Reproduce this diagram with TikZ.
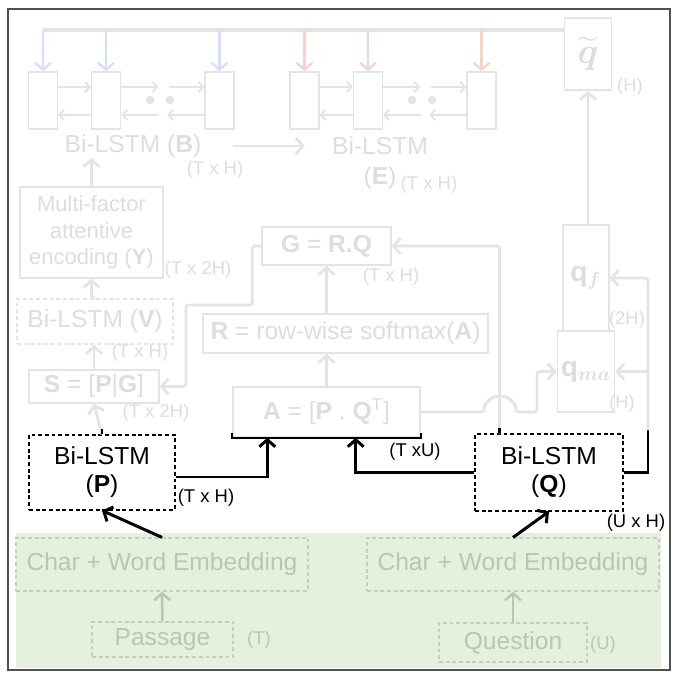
\documentclass[tikz,border=0pt]{standalone}
\usepackage{fontspec}
\usepackage{amsmath}
\setmainfont{Liberation Sans}
\usetikzlibrary{arrows.meta}

\definecolor{fadeline}{RGB}{228,228,228}
\definecolor{fadetext}{RGB}{221,221,221}
\definecolor{bluearr}{RGB}{212,222,255}
\definecolor{redarr}{RGB}{246,212,206}
\definecolor{greenbg}{RGB}{230,240,222}
\definecolor{greentext}{RGB}{186,198,180}
\definecolor{greenline}{RGB}{196,206,190}
\definecolor{framec}{RGB}{80,80,80}

\newcommand{\bigfont}{\fontsize{14}{16}\selectfont}
\newcommand{\midfont}{\fontsize{12.5}{15}\selectfont}
\newcommand{\smallfont}{\fontsize{10.5}{12}\selectfont}

\begin{document}
\begin{tikzpicture}[x=0.02cm, y=-0.02cm, >={Straight Barb[length=4pt, width=9pt]},
    cellbox/.style={draw=fadeline, line width=0.8pt, minimum width=0.58cm, minimum height=1.14cm},
    dotnode/.style={circle, fill=fadeline, inner sep=0pt, minimum size=0.17cm},
    fadebox/.style={draw=fadeline, line width=0.8pt, text=fadetext, font=\bigfont, inner sep=2pt},
    fadedash/.style={fadebox, dash pattern=on 2.2pt off 1.6pt},
    fadelabel/.style={text=fadetext, inner sep=0pt},
    blkbox/.style={draw=black, line width=0.6pt, dash pattern=on 2.2pt off 1.6pt, font=\bigfont, align=center, inner sep=2pt},
    greenbox/.style={draw=greenline, line width=0.7pt, dash pattern=on 2.2pt off 1.6pt, text=greentext, font=\bigfont, inner sep=2pt},
    cellarrow/.style={fadeline, line width=1.1pt, -{Straight Barb[length=2.6pt, width=6pt]}},
    fadearrow/.style={fadeline, line width=1.6pt, ->, rounded corners=1.5pt},
    busline/.style={fadeline, line width=1.8pt},
    bluearrow/.style={bluearr, line width=1.3pt, ->},
    redarrow/.style={redarr, line width=1.3pt, ->},
    blkarrow/.style={black, line width=1.7pt, ->},
    greenarrow/.style={greentext, line width=1.4pt, ->}]

            % Frame and background
            \useasboundingbox (0,0) rectangle (680,680);
            \fill[greenbg] (16,533) rectangle (661,668);
            \draw[framec, line width=1.2pt] (8,9) rectangle (670,670);

            % Bi-LSTM cells (B) and (E)
            \node[cellbox] (b1) at (43,100.5) {};
            \node[cellbox] (b2) at (106,100.5) {};
            \node[cellbox] (b3) at (219.5,100.5) {};
            \node[dotnode] (db1) at (150,100) {};
            \node[dotnode] (db2) at (170,100) {};
            \node[cellbox] (e1) at (304.5,100.5) {};
            \node[cellbox] (e2) at (368,100.5) {};
            \node[cellbox] (e3) at (481.5,100.5) {};
            \node[dotnode] (de1) at (412,100) {};
            \node[dotnode] (de2) at (432,100) {};

            \draw[cellarrow] ([yshift=0.27cm]b1.east) -- ([yshift=0.27cm]b2.west);
            \draw[cellarrow] ([yshift=0.27cm]b2.east) -- ++(37,0);
            \draw[cellarrow] ([xshift=-0.7cm, yshift=0.27cm]b3.west) -- ([yshift=0.27cm]b3.west);
            \draw[cellarrow] ([yshift=-0.29cm]b3.west) -- ++(-37,0);
            \draw[cellarrow] ([xshift=0.76cm, yshift=-0.29cm]b2.east) -- ([yshift=-0.29cm]b2.east);
            \draw[cellarrow] ([yshift=-0.29cm]b2.west) -- ([yshift=-0.29cm]b1.east);

            \draw[cellarrow] ([yshift=0.27cm]e1.east) -- ([yshift=0.27cm]e2.west);
            \draw[cellarrow] ([yshift=0.27cm]e2.east) -- ++(37,0);
            \draw[cellarrow] ([xshift=-0.7cm, yshift=0.27cm]e3.west) -- ([yshift=0.27cm]e3.west);
            \draw[cellarrow] ([yshift=-0.29cm]e3.west) -- ++(-37,0);
            \draw[cellarrow] ([xshift=0.76cm, yshift=-0.29cm]e2.east) -- ([yshift=-0.29cm]e2.east);
            \draw[cellarrow] ([yshift=-0.29cm]e2.west) -- ([yshift=-0.29cm]e1.east);

            % Question summary and top bus
            \node[fadebox, minimum width=0.94cm, minimum height=1.44cm, font=\fontsize{22}{24}\selectfont] (qt) at (588,54) {$\widetilde{\boldsymbol{q}}$};
            \node[fadelabel, font=\smallfont] (dimqt) at (630,87) {(H)};
            \coordinate (bus) at (43,30);
            \draw[busline] (bus) -- (bus -| qt.west);
            \draw[bluearrow] (b1.north |- bus) -- (b1.north);
            \draw[bluearrow] (b2.north |- bus) -- (b2.north);
            \draw[bluearrow] (b3.north |- bus) -- (b3.north);
            \draw[redarrow] (e1.north |- bus) -- (e1.north);
            \draw[redarrow] (e2.north |- bus) -- (e2.north);
            \draw[redarrow] (e3.north |- bus) -- (e3.north);

            % Labels of B and E
            \node[fadelabel, font=\bigfont] (lblB) at (133,146) {Bi-LSTM (\textbf{B})};
            \node[fadelabel, font=\smallfont] (dimB) at (215,170) {(T x H)};
            \node[fadelabel, font=\fontsize{14}{17}\selectfont, align=center] (lblE) at (380,163) {Bi-LSTM\\(\textbf{E})};
            \node[fadelabel, font=\smallfont] (dimE) at (429,185) {(T x H)};
            \draw[fadearrow, shorten <=0.62cm, shorten >=0.54cm] (lblB.east) -- (lblB.east -| lblE.west);

            % Passage side
            \node[fadebox, font=\midfont, align=center, minimum width=2.86cm, minimum height=1.82cm] (mf) at (91.5,232.5) {Multi-factor\\attentive\\encoding (\textbf{Y})};
            \node[fadelabel, font=\smallfont] (dimY) at (198,270) {(T x 2H)};
            \node[fadedash, minimum width=3.12cm, minimum height=0.9cm] (bv) at (95,321.5) {Bi-LSTM (\textbf{V})};
            \node[fadelabel, font=\smallfont] (dimV) at (140,353) {(T x H)};
            \node[fadebox, minimum width=2.6cm, minimum height=0.66cm] (sb) at (94,386.5) {\textbf{S} = [\textbf{P}|\textbf{G}]};
            \node[fadelabel, font=\smallfont] (dimS) at (156,413) {(T x 2H)};
            \draw[fadearrow] (mf.north) -- (mf.north |- lblB.south);
            \draw[fadearrow] (bv.north) -- (bv.north -| mf.south) -- (mf.south);
            \draw[fadearrow] (sb.north) -- (sb.north |- bv.south);

            % Attention
            \node[fadebox, minimum width=2.58cm, minimum height=0.76cm] (gb) at (326.5,246) {\textbf{G} = \textbf{R.Q}};
            \node[fadelabel, font=\smallfont] (dimG) at (391,277) {(T x H)};
            \node[fadebox, minimum width=5.7cm, minimum height=0.78cm] (rb) at (345.5,333.5) {\textbf{R} = row-wise softmax(\textbf{A})};
            \node[fadebox, minimum width=3.74cm, minimum height=1.0cm] (ab) at (326.5,412) {\textbf{A} = [\textbf{P} . \textbf{Q}\textsuperscript{T}]};
            \draw[black, line width=1pt] ([yshift=0.1cm]ab.south west) -- (ab.south west) -- (ab.south east) -- ([yshift=0.1cm]ab.south east);
            \draw[fadearrow] (ab.north) -- (ab.north |- rb.south);
            \draw[fadearrow] (gb.south |- rb.north) -- (gb.south);
            \draw[fadearrow] (gb.west) -- ++(-9,0) |- (186,305) |- (sb.east);

            % Question side
            \node[fadebox, minimum width=0.92cm, minimum height=2.12cm, font=\fontsize{16}{18}\selectfont] (qf) at (586,278) {$\mathbf{q}_{\boldsymbol{f}}$};
            \node[fadebox, minimum width=0.92cm, minimum height=1.62cm, font=\fontsize{16}{18}\selectfont] (qm) at (586,371.5) {$\mathbf{q}_{\boldsymbol{ma}}$};
            \node[fadelabel, font=\smallfont] (dimqf) at (627,320) {(2H)};
            \node[fadelabel, font=\smallfont] (dimqm) at (622,404) {(H)};
            \draw[fadearrow] (qt.south |- qf.north) -- (qt.south);
            \draw[fadearrow] (ab.east) -- (484,412) arc[start angle=180, end angle=0, radius=0.32cm] -- (537,412) |- (qm.west);

            % Bi-LSTM (P) and (Q)
            \node[blkbox, minimum width=2.92cm, minimum height=1.5cm] (pb) at (102,472.5) {Bi-LSTM\\(\textbf{P})};
            \node[font=\smallfont, inner sep=0pt] (dimP) at (206,498) {(T x H)};
            \node[blkbox, minimum width=2.96cm, minimum height=1.54cm] (qb) at (549,472.5) {Bi-LSTM\\(\textbf{Q})};
            \node[font=\smallfont, inner sep=0pt] (dimQ) at (636,523) {(U x H)};
            \node[font=\smallfont, inner sep=0pt] (dimA) at (415,452) {(T xU)};

            \draw[fadearrow] (pb.north) -- (sb.south);
            \draw[black, line width=1.2pt] (pb.north) -- ++(0,-5);
            \draw[fadearrow] ([xshift=0.5cm]qb.north west) |- (gb.east);
            \draw[black, line width=1.2pt] ([xshift=0.5cm]qb.north west) -- ++(0,-5);
            \coordinate (qbend) at (648,430);
            \draw[black, line width=1.7pt] (qb.east) -| (qbend);
            \draw[fadearrow] (qbend) |- (qf.east);
            \draw[fadearrow] (qbend |- qm.east) -- (qm.east);
            \draw[blkarrow] ([yshift=-0.09cm]pb.east) -| ([xshift=0.7cm]ab.south west);
            \draw[blkarrow] (qb.west) -| ([xshift=-1.3cm]ab.south east);

            % Embeddings and inputs
            \node[greenbox, minimum width=5.84cm, minimum height=1.06cm] (el) at (162,564.5) {Char + Word Embedding};
            \node[greenbox, minimum width=5.84cm, minimum height=1.06cm] (er) at (513,564.5) {Char + Word Embedding};
            \node[greenbox, minimum width=2.82cm, minimum height=0.7cm] (pa) at (162.5,639.5) {Passage};
            \node[greenbox, minimum width=2.96cm, minimum height=0.78cm] (qu) at (513,642.5) {Question};
            \node[text=greentext, font=\smallfont, inner sep=0pt] (dimpa) at (259,640) {(T)};
            \node[text=greentext, font=\smallfont, inner sep=0pt] (dimqu) at (603,645) {(U)};
            \draw[greenarrow] (pa.north) -- (el.south);
            \draw[greenarrow] (qu.north) -- (er.south);
            \draw[blkarrow] (el.north) -- (pb.south);
            \draw[blkarrow] (er.north) -- (qb.south);
\end{tikzpicture}
\end{document}
